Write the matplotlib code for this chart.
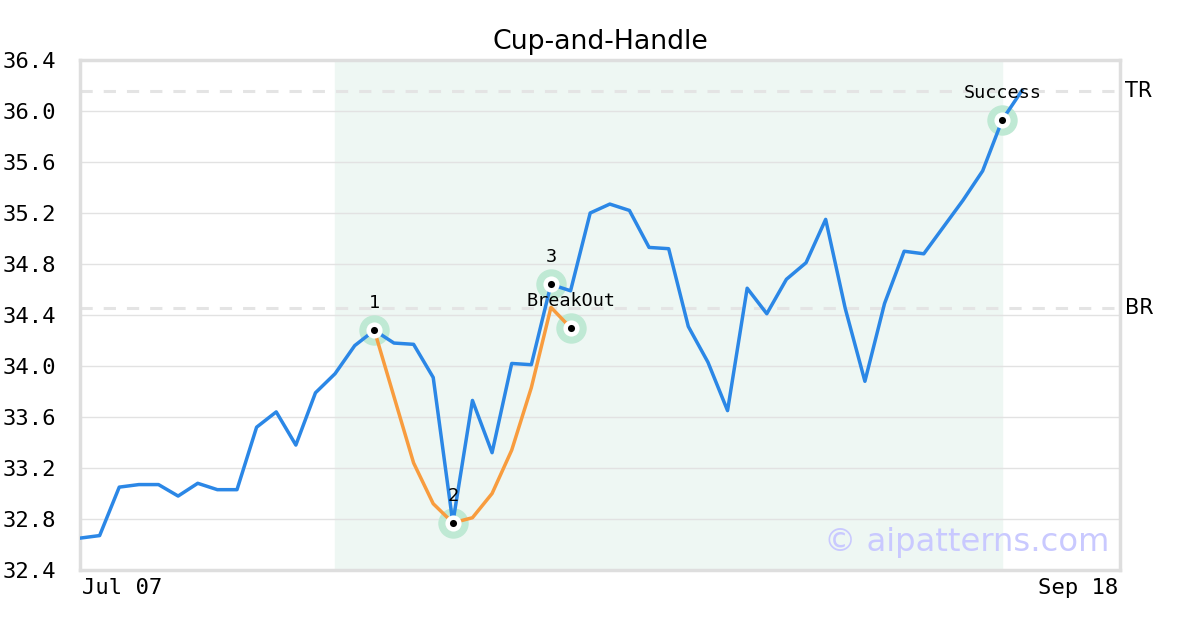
import matplotlib
matplotlib.use("Agg")
import matplotlib.pyplot as plt

# closing prices, one per trading day
prices = [32.65, 32.67, 33.05, 33.07, 33.07, 32.98, 33.08, 33.03, 33.03, 33.52,
	33.64, 33.38, 33.79, 33.94, 34.16, 34.28, 34.18, 34.17, 33.91, 32.77,
	33.73, 33.32, 34.02, 34.01, 34.64, 34.59, 35.20, 35.27, 35.22, 34.93,
	34.92, 34.31, 34.03, 33.65, 34.61, 34.41, 34.68, 34.81, 35.15, 34.45,
	33.88, 34.49, 34.90, 34.88, 35.09, 35.30, 35.53, 35.93, 36.16]

# fitted cup curve (starts at day 15)
cup_start = 15
cup = [34.28, 33.76, 33.24, 32.92, 32.77, 32.81, 33.00, 33.34, 33.83, 34.46, 34.30]

top_resistance = 36.16
breakout_resistance = 34.457

pattern_start, pattern_end = 13, 47

# key points: (day, value, label)
key_points = [
	(15, 34.28, "1"),
	(19, 32.77, "2"),
	(24, 34.64, "3"),
	(25, 34.30, "BreakOut"),
	(47, 35.93, "Success"),
]

x_labels = ["Jul 07", "Sep 18"]
y_ticks = [32.4, 32.8, 33.2, 33.6, 34.0, 34.4, 34.8, 35.2, 35.6, 36.0, 36.4]

blue = "#2b87e6"
orange = "#f89c3e"
ring = "#bfe9d4"
mono = "DejaVu Sans Mono"

fig = plt.figure(figsize=(12, 6.3), dpi=100)
ax = fig.add_axes([80/1200, 60/630, 1040/1200, 510/630])

x_max = 53.0
ax.set_xlim(0, x_max)
ax.set_ylim(32.4, 36.4)

ax.axvspan(pattern_start, pattern_end, color="#eef7f3", zorder=0)
ax.set_yticks(y_ticks)
ax.set_yticklabels(["%.1f" % v for v in y_ticks], fontfamily=mono, fontsize=16)
ax.yaxis.grid(True, color="#e2e2e2", linewidth=1, zorder=1)
ax.set_xticks([])
ax.tick_params(axis="y", length=0, pad=17)

for s in ax.spines.values():
	s.set_color("#dedede")
	s.set_linewidth(2.5)

for lvl, name in [(top_resistance, "TR"), (breakout_resistance, "BR")]:
	ax.axhline(lvl, color="#e4e4e4", linewidth=2.2, linestyle=(0, (4, 3.6)), zorder=1)
	ax.text(x_max + 0.25, lvl, name, fontsize=15, va="center", ha="left",
		clip_on=False)

days = list(range(len(prices)))
ax.plot(days, prices, color=blue, linewidth=2.5, zorder=3)
cup_days = list(range(cup_start, cup_start + len(cup)))
ax.plot(cup_days, cup, color=orange, linewidth=2.5, zorder=3)

for d, v, lab in key_points:
	ax.scatter([d], [v], s=480, color=ring, zorder=2, linewidths=0)
	ax.scatter([d], [v], s=135, color="white", zorder=5, linewidths=0)
	ax.scatter([d], [v], s=26, color="black", zorder=6, linewidths=0)
	ax.annotate(lab, (d, v), xytext=(0, 13), textcoords="offset points",
		ha="center", va="bottom", fontfamily=mono, fontsize=13.3, zorder=7)

ax.text(0.002, -0.015, x_labels[0], transform=ax.transAxes, ha="left", va="top",
	fontfamily=mono, fontsize=16)
ax.text(0.998, -0.015, x_labels[1], transform=ax.transAxes, ha="right", va="top",
	fontfamily=mono, fontsize=16)

ax.text(0.990, 0.053, "\u00a9 aipatterns.com", transform=ax.transAxes, ha="right",
	va="center", fontsize=23.2, color="#c9c9ff", zorder=8)

ax.set_title("Cup-and-Handle", fontsize=19.3, pad=8)

fig.savefig("out.png", dpi=100)
